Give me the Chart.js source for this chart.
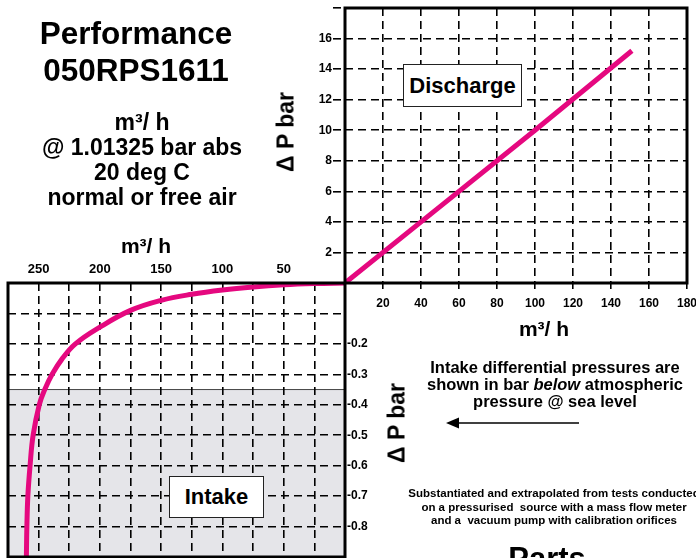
<!DOCTYPE html>
<html>
<head>
<meta charset="utf-8">
<script src="https://cdn.jsdelivr.net/npm/chart.js@4.4.1/dist/chart.umd.min.js"></script>
<style>
  html, body { margin: 0; padding: 0; background: #fff; }
  body { width: 696px; height: 558px; position: relative; overflow: hidden;
         font-family: "Liberation Sans", Arial, sans-serif; font-weight: bold; color: #000; }
  canvas { position: absolute; left: 0; top: 0; }
  .txt { position: absolute; text-align: center; white-space: nowrap; z-index: 5; }
  .rot { position: absolute; white-space: nowrap; z-index: 5; font-size: 23px;
         transform: translate(-50%, -50%) rotate(-90deg); }
  .unit { position: absolute; white-space: nowrap; z-index: 5; font-size: 21px;
          transform: translate(-50%, -50%); }
  .box { position: absolute; background: #fff; border: 1.5px solid #222; z-index: 5;
         display: flex; align-items: center; justify-content: center; font-size: 22px; }
</style>
</head>
<body>
<canvas id="intakeChart" width="696" height="558"></canvas>
<canvas id="dischargeChart" width="696" height="558"></canvas>

<div class="txt" style="left:36px; top:15px; width:200px; font-size:31.5px; line-height:37px;">Performance<br>050RPS1611</div>
<div class="txt" style="left:42px; top:110px; width:200px; font-size:23px; line-height:25px;">m³/ h<br>@ 1.01325 bar abs<br>20 deg C<br>normal or free air</div>

<div class="unit" style="left:146px; top:246px;">m³/ h</div>
<div class="unit" style="left:544px; top:329px;">m³/ h</div>
<div class="rot" style="left:286px; top:132px;">Δ P bar</div>
<div class="rot" style="left:397px; top:423px;">Δ P bar</div>

<div class="box" style="left:403px; top:64px; width:117px; height:41px;">Discharge</div>
<div class="box" style="left:169px; top:476px; width:93px; height:40px;">Intake</div>

<div class="txt" style="left:405px; top:359px; width:300px; font-size:16.5px; line-height:17px;">Intake differential pressures are<br>shown in bar <i>below</i> atmospheric<br>pressure @ sea level</div>

<svg style="position:absolute; left:0; top:0; z-index:5;" width="696" height="558">
  <line x1="456" y1="423" x2="579" y2="423" stroke="#000" stroke-width="1.6"/>
  <polygon points="446,423 459,417.5 459,428.5" fill="#000"/>
</svg>

<div class="txt" style="left:394px; top:487px; width:320px; font-size:11.5px; line-height:13.5px;">Substantiated and extrapolated from tests conducted<br>on a pressurised&nbsp; source with a mass flow meter<br>and a&nbsp; vacuum pump with calibration orifices</div>
<div class="txt" style="left:447px; top:543px; width:200px; font-size:31px; line-height:31px;">Parts</div>

<script>
// discharge side (m3/h vs bar above atmosphere)
const DISCHARGE_FLOW = [0, 50, 100, 151];
const DISCHARGE_DP = [0, 5, 10, 15.2];

// intake side (m3/h vs bar below atmosphere)
const INTAKE_FLOW = [0, 25, 50, 75, 100, 125, 150, 175, 200, 220, 231, 239, 245, 249.5, 254.5, 257, 258.8, 259.6, 260];
const INTAKE_DP = [0, -0.002, -0.006, -0.013, -0.023, -0.037, -0.057, -0.09, -0.145, -0.2, -0.25, -0.3, -0.35, -0.4, -0.5, -0.6, -0.7, -0.8, -0.9];

const DISCHARGE_X_TICKS = [20, 40, 60, 80, 100, 120, 140, 160, 180];
const DISCHARGE_Y_TICKS = [2, 4, 6, 8, 10, 12, 14, 16];
const INTAKE_X_TICKS = [50, 100, 150, 200, 250];
const INTAKE_Y_TICKS = [-0.2, -0.3, -0.4, -0.5, -0.6, -0.7, -0.8];
const SHADE_FROM = -0.35;

const MAGENTA = "#e5087f";

Chart.defaults.font.family = "'Liberation Sans', Arial, sans-serif";
Chart.defaults.font.weight = "bold";
Chart.defaults.color = "#000";

const toPoints = (xs, ys) => xs.map((x, i) => ({ x: x, y: ys[i] }));
const near = (v, list) => list.some(t => Math.abs(t - v) < 1e-6);

const gridStyle = {
    color: "#000",
    lineWidth: 1.6,
    tickBorderDash: [8, 5]
};
const dashedBorder = { display: false, dash: [8, 5] };

// thick black frame round the plot area
const frame = {
    id: "frame",
    afterDraw(chart) {
        const a = chart.chartArea;
        const ctx = chart.ctx;
        ctx.save();
        ctx.strokeStyle = "#000";
        ctx.lineWidth = 3;
        ctx.strokeRect(a.left, a.top, a.right - a.left, a.bottom - a.top);
        ctx.restore();
    }
};

// grey band for the deeper vacuum part of the intake chart
const shade = {
    id: "shade",
    beforeDraw(chart) {
        const a = chart.chartArea;
        const ctx = chart.ctx;
        const y = chart.scales.y.getPixelForValue(SHADE_FROM);
        ctx.save();
        ctx.fillStyle = "#e5e5e9";
        ctx.fillRect(a.left, y, a.right - a.left, a.bottom - y);
        ctx.strokeStyle = "#444";
        ctx.lineWidth = 1;
        ctx.beginPath();
        ctx.moveTo(a.left, y);
        ctx.lineTo(a.right, y);
        ctx.stroke();
        ctx.restore();
    }
};

new Chart(document.getElementById("dischargeChart"), {
    type: "scatter",
    data: {
        datasets: [{
            data: toPoints(DISCHARGE_FLOW, DISCHARGE_DP),
            showLine: true,
            borderColor: MAGENTA,
            borderWidth: 5,
            pointRadius: 0
        }]
    },
    options: {
        responsive: false,
        animation: false,
        layout: { padding: { left: 270, top: 8, right: 9, bottom: 215 } },
        plugins: { legend: { display: false }, tooltip: { enabled: false } },
        scales: {
            x: {
                type: "linear", min: 0, max: 180,
                border: dashedBorder,
                grid: Object.assign({ tickLength: 6 }, gridStyle),
                ticks: {
                    stepSize: 20, padding: 7, maxRotation: 0,
                    font: { size: 12, weight: "bold" },
                    callback: v => near(v, DISCHARGE_X_TICKS) ? v : ""
                },
                afterFit(s) { s.height = 60; s.paddingLeft = 0; s.paddingRight = 0; }
            },
            y: {
                type: "linear", min: 0, max: 18,
                border: dashedBorder,
                grid: Object.assign({ tickLength: 12 }, gridStyle),
                ticks: {
                    stepSize: 2, padding: 1,
                    font: { size: 12, weight: "bold" },
                    callback: v => near(v, DISCHARGE_Y_TICKS) ? v : ""
                },
                afterFit(s) { s.width = 75; s.paddingTop = 0; s.paddingBottom = 0; }
            }
        }
    },
    plugins: [frame]
});

new Chart(document.getElementById("intakeChart"), {
    type: "scatter",
    data: {
        datasets: [{
            data: toPoints(INTAKE_FLOW, INTAKE_DP),
            showLine: true,
            tension: 0.4,
            borderColor: MAGENTA,
            borderWidth: 5,
            pointRadius: 0
        }]
    },
    options: {
        responsive: false,
        animation: false,
        layout: { padding: { left: 8, top: 235, right: 311, bottom: 1 } },
        plugins: { legend: { display: false }, tooltip: { enabled: false } },
        scales: {
            x: {
                type: "linear", position: "top", reverse: true, min: 0, max: 275,
                border: dashedBorder,
                grid: Object.assign({ drawTicks: false }, gridStyle),
                ticks: {
                    stepSize: 25, padding: 6, maxRotation: 0, autoSkip: false,
                    font: { size: 13, weight: "bold" },
                    callback: v => near(v, INTAKE_X_TICKS) ? v : ""
                },
                afterFit(s) { s.height = 48; s.paddingLeft = 0; s.paddingRight = 0; }
            },
            y: {
                type: "linear", position: "right", min: -0.9, max: 0,
                border: dashedBorder,
                grid: Object.assign({ drawTicks: false }, gridStyle),
                ticks: {
                    stepSize: 0.1, padding: 2, autoSkip: false,
                    font: { size: 12, weight: "bold" },
                    callback: v => near(v, INTAKE_Y_TICKS) ? v.toFixed(1) : ""
                },
                afterFit(s) { s.width = 40; s.paddingTop = 0; s.paddingBottom = 0; }
            }
        }
    },
    plugins: [shade, frame]
});
</script>
</body>
</html>
